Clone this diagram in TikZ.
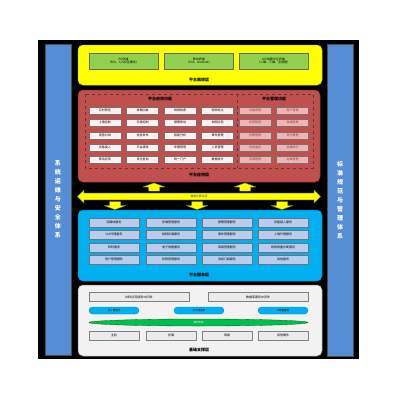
\documentclass[tikz,border=0pt]{standalone}
\usepackage{fontspec}
\setmainfont{Noto Sans CJK SC}
\usetikzlibrary{shapes.arrows,shapes.geometric}
\definecolor{sidebar}{RGB}{85,142,213}
\definecolor{appred}{RGB}{192,80,77}
\definecolor{svcblue}{RGB}{0,176,240}
\definecolor{svcbox}{RGB}{184,204,240}
\definecolor{grn}{RGB}{146,208,80}
\definecolor{ylw}{RGB}{255,255,0}
\definecolor{olive2}{RGB}{150,150,0}
\definecolor{mgmt}{RGB}{242,180,178}
\definecolor{basegray}{RGB}{242,242,242}
\definecolor{lensgreen}{RGB}{0,190,80}
\tikzset{
  layer/.style={rounded corners=5pt, line width=0.5pt},
  sidebox/.style={draw=black!70, fill=sidebar, line width=0.5pt},
  sidetext/.style={text=white, font=\fontsize{6}{9}\selectfont\bfseries, align=center},
  layertitle/.style={font=\fontsize{4}{4.5}\selectfont\bfseries, text=black, inner sep=0pt},
  boxbase/.style={rectangle, inner sep=0pt, font=\fontsize{3}{3.5}\selectfont, align=center, line width=0.5pt},
  termbox/.style={boxbase, draw=black!60, fill=grn, minimum width=69, minimum height=16},
  appbox/.style={boxbase, draw=black!55, fill=white!94!red, minimum width=32, minimum height=7, text=black},
  mgmtbox/.style={boxbase, draw=black!55, fill=mgmt, minimum width=32, minimum height=7, text=appred!70!black},
  svcbox/.style={boxbase, draw=black!55, fill=svcbox, minimum width=50, minimum height=9},
  basebox/.style={boxbase, draw=black!50, fill=black!8, minimum width=50, minimum height=9},
  blueell/.style={rectangle, rounded corners=3.5pt, inner sep=0pt, fill=svcblue, draw=svcblue!80!black, line width=0.3pt, minimum width=50, minimum height=7, font=\fontsize{2.5}{3}\selectfont},
  greenell/.style={ellipse, inner sep=0pt, fill=lensgreen, draw=green!40!black, line width=0.3pt, minimum width=219, minimum height=7, font=\fontsize{2.5}{3}\selectfont, text=white},
  yarr/.pic={\filldraw[fill=ylw, draw=olive2, line width=0.4pt, line join=round]
     (0,-4) -- (11,0) -- (5.5,0) -- (5.5,4) -- (-5.5,4) -- (-5.5,0) -- (-11,0) -- cycle;
     \coordinate (-tip) at (0,-4);},
}
\begin{document}
\begin{tikzpicture}[x=1pt,y=-1pt]
\useasboundingbox (0,0) rectangle (400,400);
\fill[black] (38,40) rectangle (359,359);

% side bars
\node[sidebox, minimum width=26, minimum height=311, inner sep=0pt] (leftbar) at (58,199.5) {};
\node[sidetext] (lefttxt) at (leftbar.center) {系\\统\\运\\维\\与\\安\\全\\体\\系};
\node[sidebox, minimum width=26, minimum height=312, inner sep=0pt] (rightbar) at (340,200) {};
\node[sidetext] (righttxt) at (rightbar.center) {标\\准\\规\\范\\与\\管\\理\\体\\系};

% presentation layer
\node[layer, fill=ylw, draw=ylw!80!black, minimum width=244, minimum height=40, inner sep=0pt] (pres) at (200,65) {};
\node[termbox] (t1) at (123.5,61) {PC终端\\（B/S、C/S交互模式）};
\node[termbox] (t2) at (199,61) {移动终端\\（IOS、Android）};
\node[termbox] (t3) at (273.5,61) {GIS地图交互终端\\（二维、三维、全景图）};
\node[layertitle] (prestitle) at (199,79.5) {平台展现层};

% application layer
\node[layer, fill=appred, draw=appred!70!black, minimum width=242, minimum height=92, inner sep=0pt] (app) at (199,136) {};
\draw[dashed, draw=appred!60!black, line width=0.4pt] (85,94) rectangle (313,168);
\draw[dashed, draw=appred!60!black, line width=0.4pt] (237,94) -- (237,168);
\node[layertitle] (apphead) at (160,99) {平台应用功能};
\node[layertitle] (mgmthead) at (274,99) {平台管理功能};

\node[appbox] (a11) at (105,110.5) {实时预览};
\node[appbox] (a12) at (142.5,110.5) {录像回放};
\node[appbox] (a13) at (180,110.5) {视频检索};
\node[appbox] (a14) at (217.5,110.5) {视频标注};
\node[appbox] (a21) at (105,122.5) {上墙控制};
\node[appbox] (a22) at (142.5,122.5) {云镜控制};
\node[appbox] (a23) at (180,122.5) {报警联动};
\node[appbox] (a24) at (217.5,122.5) {地图应用};
\node[appbox] (a31) at (105,135.5) {语音对讲};
\node[appbox] (a32) at (142.5,135.5) {信息发布};
\node[appbox] (a33) at (180,135.5) {智能分析};
\node[appbox] (a34) at (217.5,135.5) {事件管理};
\node[appbox] (a41) at (105,147.5) {设备接入};
\node[appbox] (a42) at (142.5,147.5) {平台级联};
\node[appbox] (a43) at (180,147.5) {车辆管理};
\node[appbox] (a44) at (217.5,147.5) {人员管理};
\node[appbox] (a51) at (105,159.5) {移动应用};
\node[appbox] (a52) at (142.5,159.5) {日志查询};
\node[appbox] (a53) at (180,159.5) {统一门户};
\node[appbox] (a54) at (217.5,159.5) {数据统计};

\node[mgmtbox] (m11) at (255,110.5) {设备管理};
\node[mgmtbox] (m12) at (292.5,110.5) {用户管理};
\node[mgmtbox] (m21) at (255,122.5) {权限管理};
\node[mgmtbox] (m22) at (292.5,122.5) {存储管理};
\node[mgmtbox] (m31) at (255,135.5) {告警管理};
\node[mgmtbox] (m32) at (292.5,135.5) {日志管理};
\node[mgmtbox] (m41) at (255,147.5) {系统监控};
\node[mgmtbox] (m42) at (292.5,147.5) {运维统计};
\node[mgmtbox] (m51) at (255,159.5) {资源管理};
\node[mgmtbox] (m52) at (292.5,159.5) {运维管理};
\node[layertitle] (apptitle) at (199,175) {平台应用层};

% bus and arrows
\pic (up1) at (154,187) {yarr};
\pic (up2) at (245,187) {yarr};
\node[double arrow, fill=ylw, draw=olive2, line width=0.4pt, inner sep=1.8pt, double arrow head extend=3pt, minimum height=243, font=\fontsize{2.8}{3}\selectfont, text=black!70] (bus) at (199,196.5) {数据交换总线};
\pic[yscale=-1] (dn1) at (115,205.5) {yarr};
\pic[yscale=-1] (dn2) at (197,205.5) {yarr};
\pic[yscale=-1] (dn3) at (282,205.5) {yarr};

% service layer
\node[layer, fill=svcblue, draw=svcblue!70!black, minimum width=244, minimum height=71, inner sep=0pt] (svc) at (200,245.5) {};
\node[svcbox] (s11) at (114,222.5) {流媒体服务};
\node[svcbox] (s12) at (171,222.5) {存储管理服务};
\node[svcbox] (s13) at (227,222.5) {报警管理服务};
\node[svcbox] (s14) at (283,222.5) {设备接入服务};
\node[svcbox] (s21) at (114,234.5) {GIS代理服务};
\node[svcbox] (s22) at (171,234.5) {视频存储服务};
\node[svcbox] (s23) at (227,234.5) {事件管理服务};
\node[svcbox] (s24) at (283,234.5) {上墙代理服务};
\node[svcbox] (s31) at (114,247.5) {转码服务};
\node[svcbox] (s32) at (171,247.5) {电子地图服务};
\node[svcbox] (s33) at (227,247.5) {网络管理服务};
\node[svcbox] (s34) at (283,247.5) {视频质量诊断服务};
\node[svcbox] (s41) at (114,259.5) {用户管理服务};
\node[svcbox] (s42) at (171,259.5) {权限管理服务};
\node[svcbox] (s43) at (227,259.5) {消息订阅服务};
\node[svcbox] (s44) at (283,259.5) {其他服务};
\node[layertitle] (svctitle) at (199,275) {平台服务层};

% base layer
\node[layer, fill=basegray, draw=black!40, minimum width=244, minimum height=71, inner sep=0pt] (base) at (200,320.5) {};
\node[basebox, minimum width=100] (b1) at (139,297) {WEB应用服务中间件};
\node[basebox, minimum width=100] (b2) at (258,297) {数据库服务中间件};
\node[blueell] (e1) at (114,310.5) {云计算服务};
\node[blueell] (e2) at (199,310.5) {云存储服务};
\node[blueell] (e3) at (283,310.5) {大数据服务};
\node[greenell] (e4) at (198.5,322.5) {操作系统};
\node[basebox] (h1) at (114,335.5) {主机};
\node[basebox] (h2) at (171,335.5) {存储};
\node[basebox] (h3) at (227,335.5) {网络};
\node[basebox] (h4) at (283,335.5) {其他硬件};
\node[layertitle] (basetitle) at (199,350) {基础支撑层};
\end{tikzpicture}
\end{document}
